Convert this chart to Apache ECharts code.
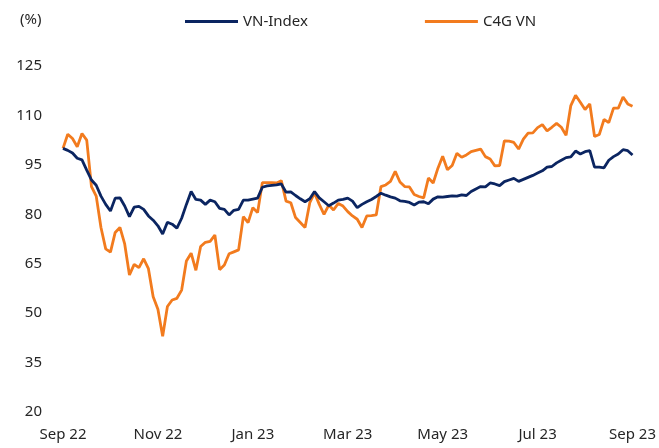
<!DOCTYPE html>
<html>
<head>
<meta charset="utf-8">
<script src="https://cdn.jsdelivr.net/npm/echarts@6/dist/echarts.min.js"></script>
<style>
    html, body {margin: 0; padding: 0; background: #fff;}
    #chart {width: 659px; height: 448px;}
</style>
</head>
<body>
<div id="chart"></div>
<script>
// tick labels, one every 20 points (about two months)
const tickLabels = ['Sep 22', 'Nov 22', 'Jan 23', 'Mar 23', 'May 23', 'Jul 23', 'Sep 23'];
const tickStep = 20;

// rebased to 100
const vnIndex = [
    100, 99.4, 98.6, 97.0, 96.5, 93.4, 90.4, 88.8, 85.5, 83.0,
    81.0, 84.9, 85.0, 82.5, 79.3, 82.2, 82.4, 81.5, 79.5, 78.2,
    76.5, 74.0, 77.6, 77.0, 75.8, 78.8, 83.0, 86.9, 84.5, 84.3,
    83.0, 84.3, 83.8, 81.8, 81.5, 79.8, 81.2, 81.5, 84.3, 84.3,
    84.6, 84.9, 88.2, 88.6, 88.8, 88.9, 89.2, 86.7, 86.8, 85.7,
    84.7, 83.8, 84.7, 86.9, 85.0, 83.8, 82.6, 83.4, 84.3, 84.5,
    84.9, 84.0, 82.0, 83.0, 83.8, 84.5, 85.4, 86.4, 85.8, 85.3,
    84.9, 84.1, 83.9, 83.6, 82.8, 83.7, 83.8, 83.2, 84.6, 85.3,
    85.2, 85.4, 85.6, 85.5, 85.9, 85.7, 86.9, 87.7, 88.4, 88.3,
    89.5, 89.2, 88.7, 89.9, 90.4, 90.9, 90.0, 90.6, 91.2, 91.8,
    92.5, 93.2, 94.3, 94.5, 95.6, 96.4, 97.2, 97.4, 99.2, 98.3,
    99.0, 99.3, 94.3, 94.3, 94.1, 96.4, 97.5, 98.3, 99.6, 99.3,
    98.0
];
const c4gVn = [
    100, 104.3, 103.0, 100.5, 104.5, 102.5, 88.4, 85.5, 76.0, 69.5,
    68.5, 74.5, 76.0, 71.0, 61.6, 64.8, 63.8, 66.5, 63.5, 55.0,
    51.2, 43.0, 52.0, 54.0, 54.5, 57.0, 65.8, 68.2, 63.0, 70.2,
    71.5, 71.8, 73.7, 63.2, 64.6, 68.0, 68.6, 69.2, 79.3, 77.5,
    82.0, 80.5, 89.6, 89.6, 89.6, 89.5, 90.2, 84.0, 83.5, 79.0,
    77.5, 76.0, 83.5, 86.5, 83.0, 80.0, 82.8, 81.3, 83.3, 82.5,
    80.8, 79.5, 78.5, 76.0, 79.5, 79.6, 79.8, 88.4, 88.9, 90.0,
    93.0, 89.8, 88.4, 88.3, 86.0, 85.4, 85.0, 91.0, 89.5, 94.0,
    97.6, 93.5, 94.8, 98.5, 97.3, 98.0, 99.0, 99.4, 99.8, 97.5,
    96.8, 94.7, 94.8, 102.3, 102.2, 101.8, 99.8, 102.8, 104.6, 104.7,
    106.3, 107.2, 105.3, 106.4, 107.6, 106.4, 104.0, 113.0, 116.1, 114.0,
    111.8, 113.5, 103.6, 104.2, 108.8, 107.8, 112.2, 112.2, 115.6, 113.5,
    112.8
];

const categories = vnIndex.map((v, i) => i % tickStep === 0 ? tickLabels[i / tickStep] : 'd' + i);

const font = 'Noto Sans';
const textColor = '#262626';
const chart = echarts.init(document.getElementById('chart'), null, {renderer: 'canvas'});

chart.setOption({
    animation: false,
    backgroundColor: '#fff',
    title: {
        text: '(%)',
        left: 15,
        top: 7,
        textStyle: {fontFamily: font, fontSize: 15, fontWeight: 'normal', color: textColor}
    },
    legend: {
        top: 9,
        left: 180,
        itemWidth: 53,
        itemHeight: 3,
        itemGap: 117,
        icon: 'rect',
        textStyle: {fontFamily: font, fontSize: 15, color: textColor},
        data: ['VN-Index', 'C4G VN']
    },
    grid: {left: 63, right: 23, top: 66, bottom: 36, containLabel: false},
    xAxis: {
        type: 'category',
        data: categories,
        boundaryGap: false,
        axisLine: {show: false},
        axisTick: {show: false},
        splitLine: {show: false},
        axisLabel: {
            interval: tickStep - 1,
            margin: 15,
            fontFamily: font,
            fontSize: 15,
            color: textColor,
            formatter: (v, i) => tickLabels[i / tickStep]
        }
    },
    yAxis: {
        type: 'value',
        min: 20,
        max: 125,
        interval: 15,
        axisLine: {show: false},
        axisTick: {show: false},
        splitLine: {show: false},
        axisLabel: {margin: 21, fontFamily: font, fontSize: 15, color: textColor}
    },
    series: [
        {
            name: 'VN-Index',
            type: 'line',
            data: vnIndex,
            showSymbol: false,
            z: 3,
            itemStyle: {color: '#0B2561'},
            lineStyle: {width: 2.8, color: '#0B2561'}
        },
        {
            name: 'C4G VN',
            type: 'line',
            data: c4gVn,
            showSymbol: false,
            z: 2,
            itemStyle: {color: '#F27B1E'},
            lineStyle: {width: 2.8, color: '#F27B1E'}
        }
    ]
});
</script>
</body>
</html>
